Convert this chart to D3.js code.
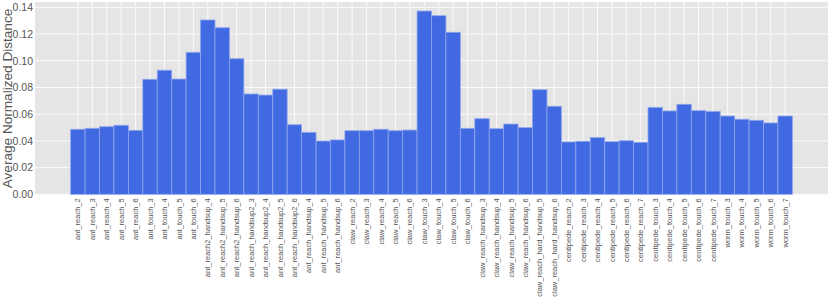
<!DOCTYPE html>
<html>
<head>
<meta charset="utf-8">
<script src="https://cdn.jsdelivr.net/npm/d3@7"></script>
<style>
  body { margin: 0; background: #fff; }
  svg { display: block; font-family: "Liberation Sans", Arial, sans-serif; }
</style>
</head>
<body>
<svg id="chart"></svg>
<script>
const categories = [
  'ant_reach_2', 'ant_reach_3', 'ant_reach_4', 'ant_reach_5', 'ant_reach_6',
  'ant_touch_3', 'ant_touch_4', 'ant_touch_5', 'ant_touch_6',
  'ant_reach2_handsup_4', 'ant_reach2_handsup_5', 'ant_reach2_handsup_6',
  'ant_reach_handsup2_3', 'ant_reach_handsup2_4', 'ant_reach_handsup2_5', 'ant_reach_handsup2_6',
  'ant_reach_handsup_4', 'ant_reach_handsup_5', 'ant_reach_handsup_6',
  'claw_reach_2', 'claw_reach_3', 'claw_reach_4', 'claw_reach_5', 'claw_reach_6',
  'claw_touch_3', 'claw_touch_4', 'claw_touch_5', 'claw_touch_6',
  'claw_reach_handsup_3', 'claw_reach_handsup_4', 'claw_reach_handsup_5', 'claw_reach_handsup_6',
  'claw_reach_hard_handsup_5', 'claw_reach_hard_handsup_6',
  'centipede_reach_2', 'centipede_reach_3', 'centipede_reach_4', 'centipede_reach_5', 'centipede_reach_6', 'centipede_reach_7',
  'centipede_touch_3', 'centipede_touch_4', 'centipede_touch_5', 'centipede_touch_6', 'centipede_touch_7',
  'worm_touch_3', 'worm_touch_4', 'worm_touch_5', 'worm_touch_6', 'worm_touch_7'
]

const distances = [
  0.0487, 0.0494, 0.0506, 0.0517, 0.0479,
  0.0861, 0.0929, 0.0863, 0.1063,
  0.1305, 0.1247, 0.1015,
  0.0751, 0.0743, 0.0787, 0.0521,
  0.0464, 0.0399, 0.0407,
  0.0476, 0.0476, 0.0487, 0.0476, 0.0481,
  0.1372, 0.1337, 0.1213, 0.0494,
  0.0566, 0.0491, 0.0526, 0.0499,
  0.0783, 0.0659,
  0.0392, 0.0397, 0.0424, 0.0394, 0.0401, 0.0389,
  0.0651, 0.0624, 0.0674, 0.0626, 0.0621,
  0.0586, 0.0562, 0.0554, 0.0534, 0.0586
]

const yTicks = [0, 0.02, 0.04, 0.06, 0.08, 0.10, 0.12, 0.14]

const width = 830,
    height = 302,
    plot = {left: 35, right: 828, top: 2, bottom: 194.3}

const svg = d3.select('#chart')
    .attr('width', width)
    .attr('height', height)

const x = d3.scaleBand()
    .domain(categories)
    .range([plot.left, plot.right])
    .paddingInner(0)
    .paddingOuter(2.47)

// 0.14 sits at y ~7.3
const y = d3.scaleLinear()
    .domain([0, 0.14])
    .range([plot.bottom, 7.3])

svg.append('rect')
    .attr('x', plot.left)
    .attr('y', plot.top)
    .attr('width', plot.right - plot.left)
    .attr('height', plot.bottom - plot.top)
    .attr('fill', '#e5e5e5')

const grid = svg.append('g')
    .attr('stroke', '#fafafa')
    .attr('stroke-width', 1)

grid.selectAll('line.h')
    .data(yTicks)
    .enter().append('line')
    .attr('class', 'h')
    .attr('x1', plot.left)
    .attr('x2', plot.right)
    .attr('y1', d => y(d))
    .attr('y2', d => y(d))

grid.selectAll('line.v')
    .data(categories)
    .enter().append('line')
    .attr('class', 'v')
    .attr('x1', d => x(d) + x.bandwidth() / 2)
    .attr('x2', d => x(d) + x.bandwidth() / 2)
    .attr('y1', plot.top)
    .attr('y2', plot.bottom)

svg.append('g')
    .selectAll('rect')
    .data(categories)
    .enter().append('rect')
    .attr('x', d => x(d))
    .attr('width', x.bandwidth())
    .attr('y', (d, i) => y(distances[i]))
    .attr('height', (d, i) => y(0) - y(distances[i]))
    .attr('fill', '#4169e1')
    .attr('stroke', '#8fa6ee')
    .attr('stroke-width', 0.8)

const yAxis = svg.append('g')
    .attr('transform', `translate(${plot.left},0)`)
    .call(d3.axisLeft(y).tickValues(yTicks).tickFormat(d3.format('.2f')).tickSize(0).tickPadding(2))

yAxis.select('.domain').remove()
yAxis.selectAll('text')
    .attr('fill', '#555')
    .style('font-size', '10.5px')

const xAxis = svg.append('g')
    .attr('transform', `translate(0,${plot.bottom})`)
    .call(d3.axisBottom(x).tickSize(0))

xAxis.select('.domain').remove()
xAxis.selectAll('text')
    .attr('fill', '#555')
    .style('font-size', '7.5px')
    .attr('transform', 'rotate(-90)')
    .attr('text-anchor', 'end')
    .attr('x', -4)
    .attr('y', 0)
    .attr('dy', '0.35em')

svg.append('text')
    .attr('transform', 'translate(12,98.5) rotate(-90)')
    .attr('text-anchor', 'middle')
    .attr('fill', '#555')
    .style('font-size', '13.6px')
    .text('Average Normalized Distance')
</script>
</body>
</html>
